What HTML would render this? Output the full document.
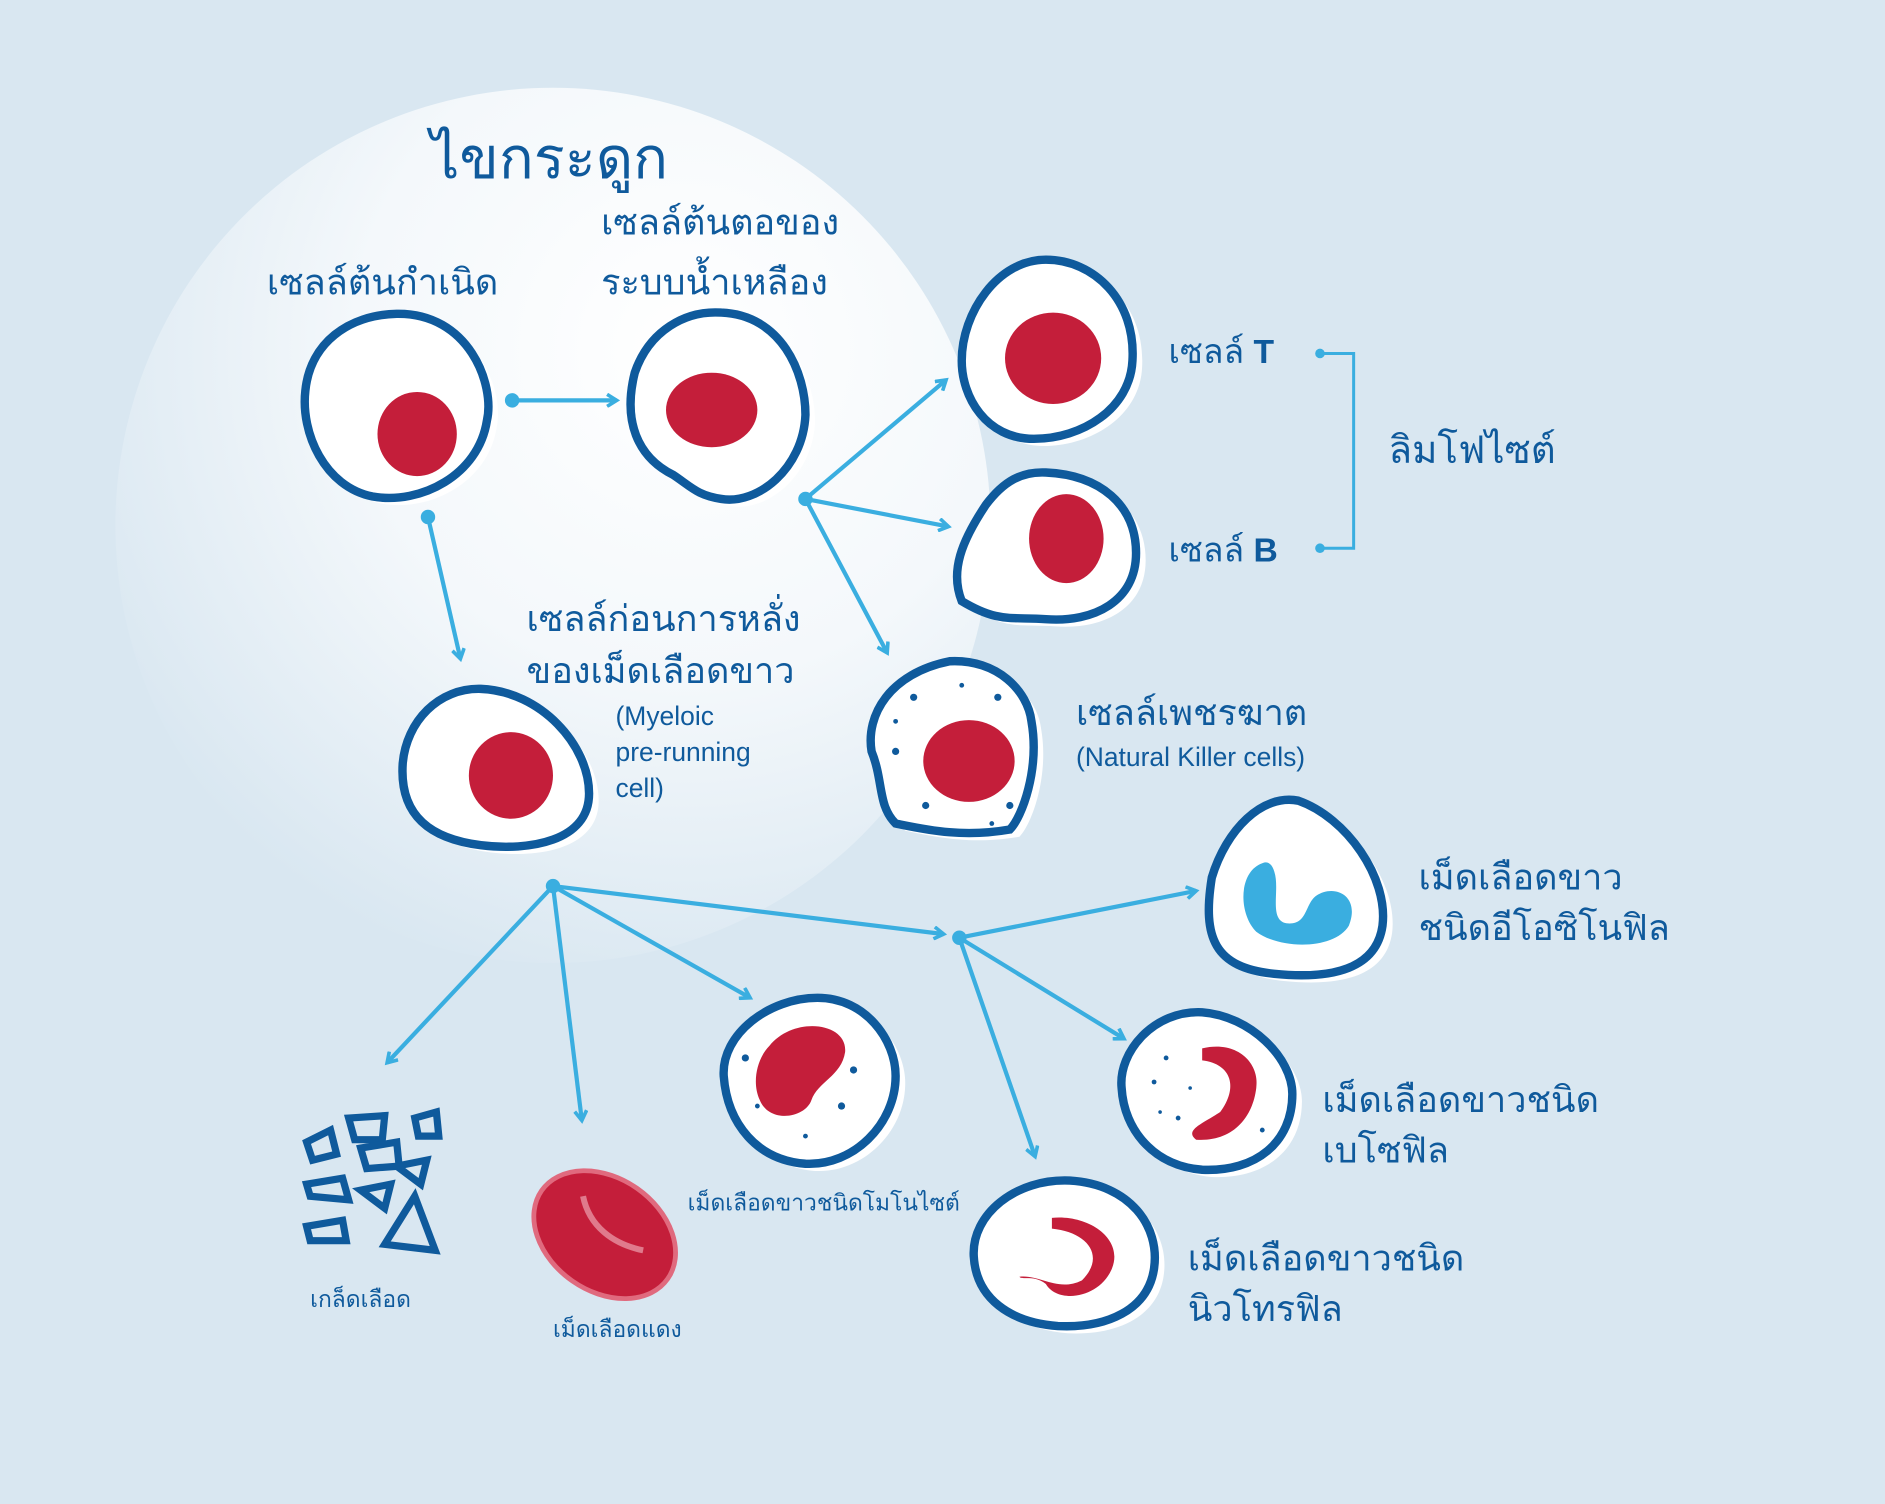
<!DOCTYPE html>
<html><head><meta charset="utf-8"><style>
html,body{margin:0;padding:0;background:#d9e7f1;}
svg{display:block}
text{font-family:"Liberation Sans","DejaVu Sans",sans-serif;fill:#0f5a9c}
</style></head><body>
<svg width="1885" height="1504" viewBox="0 0 1568 1251" xmlns="http://www.w3.org/2000/svg">
<defs>
<radialGradient id="g" cx="0.65" cy="0.3" r="0.75">
<stop offset="0" stop-color="#ffffff"/><stop offset="0.5" stop-color="#f4f8fb"/><stop offset="1" stop-color="#d9e7f1"/>
</radialGradient>
<marker id="a" markerWidth="12" markerHeight="12" refX="9" refY="6" orient="auto" markerUnits="userSpaceOnUse">
<path d="M1,1 L9,6 L1,11" fill="none" stroke="#3aaee0" stroke-width="3"/></marker>
<g id="cells">
<path d="M330,261 C390,260 412,320 405,350 C398,395 350,420 310,413 C270,405 250,360 254,325 C258,285 290,262 330,261Z"/>
<path d="M600,260 C650,262 670,310 670,345 C668,390 630,420 600,415 C580,412 575,405 560,395 C530,380 518,350 528,310 C540,275 570,258 600,260Z"/>
<path d="M870,216 C910,216 945,250 942,300 C940,340 900,365 860,365 C820,365 800,330 800,300 C800,260 830,216 870,216Z"/>
<path d="M870,393 C915,395 945,420 945,460 C945,500 910,518 870,515 C840,513 830,518 800,500 C790,475 800,450 820,420 C835,400 850,392 870,393Z"/>
<path d="M790,550 C830,548 855,575 858,600 C865,640 850,680 840,690 C800,697 770,690 745,685 C730,670 735,650 725,625 C720,595 740,560 790,550Z"/>
<path d="M400,573 C450,575 490,620 490,660 C490,700 440,708 400,703 C360,698 332,680 335,635 C338,600 365,572 400,573Z"/>
<path d="M1080,666 C1120,680 1155,730 1150,770 C1145,805 1110,815 1060,810 C1010,805 1000,780 1008,730 C1020,690 1050,660 1080,666Z"/>
<path d="M1000,842 C1040,845 1075,880 1075,910 C1075,950 1045,975 1000,973 C960,970 935,940 933,905 C930,875 960,840 1000,842Z"/>
<path d="M680,830 C720,830 745,865 745,895 C745,935 710,970 670,968 C630,965 605,935 602,895 C600,860 640,830 680,830Z"/>
<path d="M890,982 C940,985 965,1020 960,1055 C955,1090 920,1105 880,1103 C840,1100 812,1080 810,1045 C808,1010 845,980 890,982Z"/>
</g>
</defs>
<rect width="1568" height="1251" fill="#d9e7f1"/>
<circle cx="460" cy="437" r="364" fill="url(#g)"/>
<text x="358" y="148" font-size="48">ไขกระดูก</text>
<text x="222" y="245" font-size="30">เซลล์ต้นกำเนิด</text>
<text x="500" y="195" font-size="30">เซลล์ต้นตอของ</text>
<text x="500" y="245" font-size="30">ระบบน้ำเหลือง</text>
<text x="438" y="525" font-size="30">เซลล์ก่อนการหลั่ง</text>
<text x="438" y="568" font-size="30">ของเม็ดเลือดขาว</text>
<text x="512" y="603" font-size="22">(Myeloic</text>
<text x="512" y="633" font-size="22">pre-running</text>
<text x="512" y="663" font-size="22">cell)</text>
<text x="972" y="302" font-size="28">เซลล์ <tspan font-weight="bold">T</tspan></text>
<text x="972" y="467" font-size="28">เซลล์ <tspan font-weight="bold">B</tspan></text>
<text x="1155" y="385" font-size="32">ลิมโฟไซต์</text>
<path d="M1098,294 H1126 V456 H1098" fill="none" stroke="#3aaee0" stroke-width="2.5"/>
<circle cx="1098" cy="294" r="4" fill="#3aaee0"/><circle cx="1098" cy="456" r="4" fill="#3aaee0"/>
<text x="895" y="603" font-size="30">เซลล์เพชรฆาต</text>
<text x="895" y="637" font-size="22">(Natural Killer cells)</text>
<text x="1180" y="740" font-size="30">เม็ดเลือดขาว</text>
<text x="1180" y="782" font-size="30">ชนิดอีโอซิโนฟิล</text>
<text x="1100" y="925" font-size="30">เม็ดเลือดขาวชนิด</text>
<text x="1100" y="967" font-size="30">เบโซฟิล</text>
<text x="988" y="1057" font-size="30">เม็ดเลือดขาวชนิด</text>
<text x="988" y="1099" font-size="30">นิวโทรฟิล</text>
<text x="572" y="1007" font-size="19">เม็ดเลือดขาวชนิดโมโนไซต์</text>
<text x="258" y="1087" font-size="19">เกล็ดเลือด</text>
<text x="460" y="1112" font-size="19">เม็ดเลือดแดง</text>
<g stroke="#3aaee0" stroke-width="3.5" fill="none" marker-end="url(#a)">
<path d="M426,333 H513"/><path d="M356,430 L383,548"/>
<path d="M670,415 L787,316"/><path d="M670,415 L789,438"/><path d="M670,415 L738,543"/>
<path d="M460,737 L322,884"/><path d="M460,737 L484,932"/><path d="M460,737 L624,830"/><path d="M460,737 L785,777"/>
<path d="M798,780 L995,741"/><path d="M798,780 L935,864"/><path d="M798,780 L861,962"/>
</g>
<g fill="#3aaee0"><circle cx="426" cy="333" r="6"/><circle cx="356" cy="430" r="6"/><circle cx="670" cy="415" r="6"/><circle cx="460" cy="737" r="6"/><circle cx="798" cy="780" r="6"/></g>
<use href="#cells" transform="translate(8,6)" fill="#fff"/>
<use href="#cells" stroke="#0f5a9c" stroke-width="7" fill="#fff"/>
<g fill="#c41e3a">
<ellipse cx="347" cy="361" rx="33" ry="35"/>
<ellipse cx="592" cy="341" rx="38" ry="31"/>
<ellipse cx="876" cy="298" rx="40" ry="38"/>
<ellipse cx="887" cy="448" rx="31" ry="37"/>
<ellipse cx="806" cy="633" rx="38" ry="34"/>
<ellipse cx="425" cy="645" rx="35" ry="36"/>
<path d="M640,870 C660,845 705,850 703,875 C700,895 680,900 675,915 C670,930 640,935 632,915 C625,900 630,880 640,870Z"/>
<path d="M1000,872 C1030,865 1048,885 1045,905 C1042,930 1025,950 995,948 C985,940 1000,935 1015,925 C1030,905 1025,885 1000,882Z"/>
<path d="M875,1013 C905,1010 935,1030 925,1055 C915,1080 880,1085 870,1068 C860,1060 850,1065 848,1062 C865,1060 880,1075 900,1065 C920,1045 905,1025 875,1022Z"/>
<ellipse cx="503" cy="1027" rx="64" ry="47" transform="rotate(35 503 1027)" stroke="#e06a7e" stroke-width="4"/>
</g>
<path d="M485,995 C490,1020 510,1035 535,1040" fill="none" stroke="#e07a8c" stroke-width="5"/>
<path d="M1050,718 C1030,725 1030,760 1045,775 C1065,790 1110,790 1122,770 C1132,745 1110,735 1095,745 C1085,752 1088,770 1070,768 C1055,765 1065,740 1060,725 C1058,718 1054,716 1050,718Z" fill="#3aaee0"/>
<g fill="#0f5a9c">
<circle cx="760" cy="580" r="3"/><circle cx="830" cy="580" r="3"/><circle cx="745" cy="625" r="3"/><circle cx="770" cy="670" r="3"/><circle cx="840" cy="670" r="3"/><circle cx="800" cy="570" r="2"/><circle cx="745" cy="600" r="2"/><circle cx="825" cy="685" r="2"/>
<circle cx="620" cy="880" r="3"/><circle cx="710" cy="890" r="3"/><circle cx="700" cy="920" r="3"/><circle cx="670" cy="945" r="2"/><circle cx="630" cy="920" r="2"/>
<circle cx="960" cy="900" r="2"/><circle cx="980" cy="930" r="2"/><circle cx="970" cy="880" r="2"/><circle cx="1050" cy="940" r="2"/><circle cx="990" cy="905" r="1.5"/><circle cx="965" cy="925" r="1.5"/>
</g>
<g stroke="#0f5a9c" stroke-width="6" fill="none">
<path d="M255,950 L275,940 L280,960 L260,965Z"/><path d="M290,930 L320,928 L318,948 L295,948Z"/><path d="M345,930 L363,925 L365,945 L348,945Z"/>
<path d="M300,955 L330,950 L332,970 L305,972Z"/><path d="M255,985 L285,980 L290,998 L258,995Z"/><path d="M300,990 L325,985 L320,1005Z"/>
<path d="M330,970 L355,965 L350,985Z"/><path d="M255,1020 L285,1015 L288,1032 L258,1032Z"/><path d="M320,1035 L345,995 L362,1040Z"/>
</g>
</svg>
</body></html>
